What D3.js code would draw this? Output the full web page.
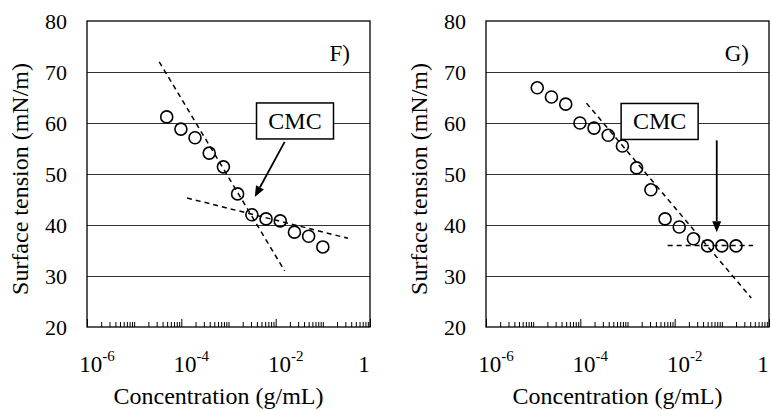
<!DOCTYPE html>
<html>
<head>
<meta charset="utf-8">
<script src="https://cdn.jsdelivr.net/npm/d3@7"></script>
<style>
  html, body { margin: 0; padding: 0; background: #fff; }
  svg, svg text { font-family: "Liberation Serif", "Times New Roman", serif; }
  svg { display: block; }
</style>
</head>
<body>
<svg id="chart" width="771" height="411"></svg>
<script>
// panel F
const concF = [4.9e-5, 9.8e-5, 1.95e-4, 3.9e-4, 7.8e-4, 1.56e-3, 3.13e-3, 6.25e-3, 1.25e-2, 2.5e-2, 5e-2, 0.1];
const tensionF = [61.2, 58.8, 57.1, 54.1, 51.4, 46.1, 42.0, 41.2, 40.8, 38.6, 37.8, 35.7];
const fitF = [
  [[3.4e-5, 72.0], [1.55e-2, 31.0]],
  [[1.32e-4, 45.3], [0.34, 37.4]]
];
const cmcF = { box: [0.0257, 60.4], from: [0.0155, 56.3], to: [3.6e-3, 45.5] };

// panel G
const concG = [1.22e-5, 2.44e-5, 4.9e-5, 9.8e-5, 1.95e-4, 3.9e-4, 7.8e-4, 1.56e-3, 3.13e-3, 6.25e-3, 1.25e-2, 2.5e-2, 5e-2, 0.1, 0.2];
const tensionG = [66.9, 65.1, 63.7, 60.0, 59.0, 57.6, 55.5, 51.2, 46.9, 41.2, 39.6, 37.3, 35.9, 35.9, 35.9];
const fitG = [
  [[1.35e-4, 63.9], [0.42, 25.7]],
  [[7.1e-3, 36.0], [0.46, 36.0]]
];
const cmcG = { box: [4.8e-3, 60.3], from: [0.078, 56.6], to: [0.078, 38.6] };

// axes
const yTicks = [20, 30, 40, 50, 60, 70, 80];
const xLabels = [
  { v: 1e-6, base: "10", exp: "-6" },
  { v: 1e-4, base: "10", exp: "-4" },
  { v: 1e-2, base: "10", exp: "-2" },
  { v: 1, base: "1", exp: "" }
];
const xTitle = "Concentration (g/mL)";
const yTitle = "Surface tension (mN/m)";

const FONT = "Liberation Serif, Times New Roman, serif";
const svg = d3.select("#chart");
const plotTop = 21, plotBottom = 327;

const panels = [
  { x0: 87, x1: 370, conc: concF, ten: tensionF, fits: fitF, cmc: cmcF, tag: "F)" },
  { x0: 486, x1: 769, conc: concG, ten: tensionG, fits: fitG, cmc: cmcG, tag: "G)" }
];

// minor ticks 2..9 per decade, plus the odd decades
const decades = d3.range(-6, 0);
const minorTicks = [];
decades.forEach(e => {
  for (let k = 2; k <= 9; k++) minorTicks.push(k * Math.pow(10, e));
  if (e % 2 !== 0) minorTicks.push(Math.pow(10, e));
});
const majorTicks = [1e-6, 1e-4, 1e-2, 1];

panels.forEach(p => {
  const x = d3.scaleLog().domain([1e-6, 1]).range([p.x0, p.x1]);
  const y = d3.scaleLinear().domain([20, 80]).range([plotBottom, plotTop]);
  const g = svg.append("g").attr("font-family", FONT);

  // gridlines
  g.append("g")
    .attr("transform", `translate(${p.x0},0)`)
    .call(d3.axisLeft(y).tickValues([30, 40, 50, 60, 70]).tickSize(-(p.x1 - p.x0)).tickFormat(""))
    .call(a => a.select(".domain").remove())
    .call(a => a.selectAll("line").attr("stroke", "#333").attr("shape-rendering", "crispEdges"));

  // y tick labels
  g.append("g")
    .attr("transform", `translate(${p.x0},0)`)
    .call(d3.axisLeft(y).tickValues(yTicks).tickSize(0).tickPadding(20))
    .attr("font-family", FONT)
    .attr("font-size", 22)
    .call(a => a.select(".domain").remove())
    .call(a => a.selectAll("text")
      .attr("fill", "#000")
      .attr("dy", "0.33em"));

  // x ticks (inward)
  g.append("g")
    .attr("transform", `translate(0,${plotBottom})`)
    .call(d3.axisBottom(x).tickValues(minorTicks).tickSize(-5).tickSizeOuter(0).tickFormat(""))
    .call(a => a.select(".domain").remove())
    .call(a => a.selectAll("line").attr("stroke", "#000"));
  g.append("g")
    .attr("transform", `translate(0,${plotBottom})`)
    .call(d3.axisBottom(x).tickValues(majorTicks).tickSize(-8).tickSizeOuter(0).tickFormat(""))
    .call(a => a.select(".domain").remove())
    .call(a => a.selectAll("line").attr("stroke", "#000"));

  // box
  g.append("rect")
    .attr("x", p.x0).attr("y", plotTop)
    .attr("width", p.x1 - p.x0).attr("height", plotBottom - plotTop)
    .attr("fill", "none").attr("stroke", "#000").attr("stroke-width", 1.3);

  // x labels
  const lab = g.selectAll("text.xl")
    .data(xLabels)
    .join("text")
    .attr("class", "xl")
    .attr("x", d => x(d.v) + (d.exp ? 10 : -6))
    .attr("y", 372)
    .attr("text-anchor", "middle")
    .attr("font-size", 23);
  lab.append("tspan").text(d => d.base);
  lab.filter(d => d.exp).append("tspan")
    .attr("font-size", 15)
    .attr("dy", -11)
    .text(d => d.exp);

  // titles
  g.append("text")
    .attr("x", (p.x0 + p.x1) / 2 - 10)
    .attr("y", 404)
    .attr("text-anchor", "middle")
    .attr("font-size", 24)
    .text(xTitle);
  g.append("text")
    .attr("transform", `translate(${p.x0 - 59},179) rotate(-90)`)
    .attr("text-anchor", "middle")
    .attr("font-size", 24)
    .text(yTitle);

  // panel tag
  g.append("text")
    .attr("x", p.x1 - 20)
    .attr("y", 61)
    .attr("text-anchor", "end")
    .attr("font-size", 23)
    .text(p.tag);

  // fit lines
  const line = d3.line().x(d => x(d[0])).y(d => y(d[1]));
  g.selectAll("path.fit")
    .data(p.fits)
    .join("path")
    .attr("class", "fit")
    .attr("d", line)
    .attr("fill", "none")
    .attr("stroke", "#000")
    .attr("stroke-width", 1.5)
    .attr("stroke-dasharray", "5,4");

  // points
  g.selectAll("circle.pt")
    .data(p.conc.map((c, i) => [c, p.ten[i]]))
    .join("circle")
    .attr("class", "pt")
    .attr("cx", d => x(d[0]))
    .attr("cy", d => y(d[1]))
    .attr("r", 6)
    .attr("fill", "none")
    .attr("stroke", "#000")
    .attr("stroke-width", 1.6);

  // CMC box + arrow
  const bx = x(p.cmc.box[0]), by = y(p.cmc.box[1]);
  const bw = 77, bh = 36;
  g.append("rect")
    .attr("x", bx - bw / 2).attr("y", by - bh / 2)
    .attr("width", bw).attr("height", bh)
    .attr("fill", "#fff").attr("stroke", "#000").attr("stroke-width", 1.5);
  g.append("text")
    .attr("x", bx).attr("y", by + 8)
    .attr("text-anchor", "middle")
    .attr("font-size", 24)
    .text("CMC");

  const ax1 = x(p.cmc.from[0]), ay1 = y(p.cmc.from[1]);
  const ax2 = x(p.cmc.to[0]), ay2 = y(p.cmc.to[1]);
  const ang = Math.atan2(ay2 - ay1, ax2 - ax1);
  const hl = 11, hw = 4.5;
  const bxh = ax2 - hl * Math.cos(ang), byh = ay2 - hl * Math.sin(ang);
  g.append("line")
    .attr("x1", ax1).attr("y1", ay1)
    .attr("x2", bxh).attr("y2", byh)
    .attr("stroke", "#000").attr("stroke-width", 1.8);
  g.append("path")
    .attr("d", `M${ax2},${ay2}L${bxh - hw * Math.sin(ang)},${byh + hw * Math.cos(ang)}L${bxh + hw * Math.sin(ang)},${byh - hw * Math.cos(ang)}Z`)
    .attr("fill", "#000");
});
</script>
</body>
</html>
